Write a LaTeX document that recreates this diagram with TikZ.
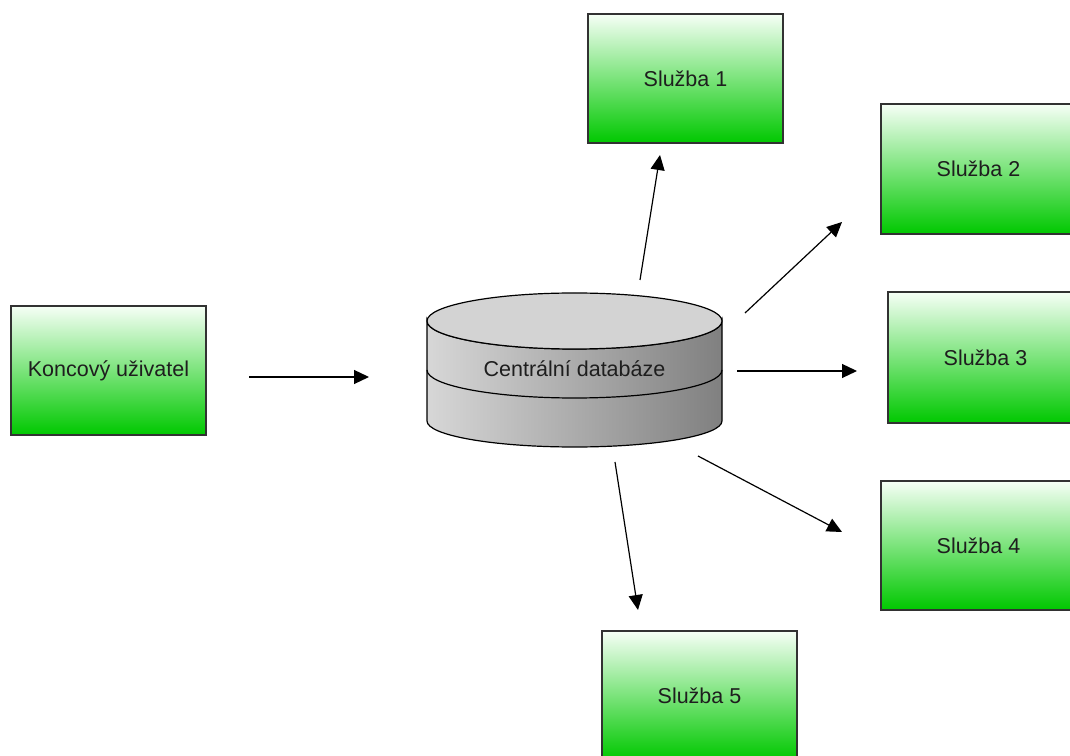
\documentclass[tikz,border=0pt]{standalone}
\usepackage{fontspec}
\setmainfont{Liberation Sans}
\usetikzlibrary{arrows.meta}
\definecolor{gtop}{RGB}{246,255,246}
\definecolor{gbot}{RGB}{0,200,0}
\definecolor{bord}{RGB}{50,50,50}
\definecolor{txt}{RGB}{30,30,30}
\definecolor{dbtop}{RGB}{211,211,211}
\definecolor{dbl}{RGB}{215,215,215}
\definecolor{dbr}{RGB}{128,128,128}
\tikzset{
  svc/.style={draw=bord, line width=1.5pt, rectangle, minimum width=195pt, minimum height=129pt,
    top color=gtop, bottom color=gbot, font=\fontsize{21.5pt}{24pt}\selectfont, text=txt, inner sep=0pt},
  conn/.style={line width=1.2pt, -{Triangle[length=15pt,width=14pt]}},
  dbline/.style={draw=black, line width=1.2pt}
}
\begin{document}
\begin{tikzpicture}[x=1pt,y=1pt]
\useasboundingbox (0,0) rectangle (1070,755);
\clip (0,0) rectangle (1070,755);
\fill[white] (0,0) rectangle (1070,755);
% boxes
\node[svc] (k) at (108.5,384.5) {Koncový uživatel};
\node[svc] (s1) at (685.5,676.5) {Služba 1};
\node[svc, minimum height=130pt] (s2) at (978.5,586) {Služba 2};
\node[svc, minimum height=131pt] (s3) at (985.5,397.5) {Služba 3};
\node[svc] (s4) at (978.5,209.5) {Služba 4};
\node[svc] (s5) at (699.5,59.5) {Služba 5};
% database
\path[dbline, left color=dbl, right color=dbr]
  (427,434) -- (427,334) arc[start angle=180, end angle=360, x radius=147.5pt, y radius=26pt]
  -- (722,434) arc[start angle=0, end angle=-180, x radius=147.5pt, y radius=28pt] -- cycle;
\draw[dbline] (427,385) arc[start angle=180, end angle=360, x radius=147.5pt, y radius=28pt];
\path[dbline, fill=dbtop] (574.5,434) ellipse[x radius=147.5pt, y radius=28pt];
\node[font=\fontsize{21.5pt}{24pt}\selectfont, text=txt, inner sep=0pt] (db) at (574.5,386) {Centrální databáze};
% connector end points
\coordinate (a0) at (249,378); \coordinate (a1) at (369,378);
\coordinate (b0) at (640,475); \coordinate (b1) at (660,600);
\coordinate (c0) at (745,442); \coordinate (c1) at (842,533);
\coordinate (d0) at (737,384); \coordinate (d1) at (857,384);
\coordinate (e0) at (698,299); \coordinate (e1) at (842,223);
\coordinate (f0) at (615,293); \coordinate (f1) at (638,145);
\draw[conn] (a0) -- (a1);
\draw[conn] (b0) -- (b1);
\draw[conn] (c0) -- (c1);
\draw[conn] (d0) -- (d1);
\draw[conn] (e0) -- (e1);
\draw[conn] (f0) -- (f1);
\end{tikzpicture}
\end{document}
